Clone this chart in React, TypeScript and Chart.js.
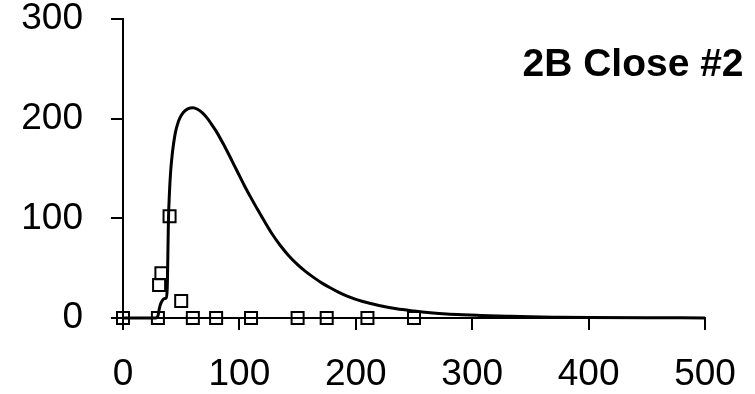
import React, { useEffect, useRef } from "react";
import { Chart, registerables } from "chart.js";

Chart.register(...registerables);

// Model curve
const curveX = [0, 10, 20, 28, 30, 31, 32, 34, 36, 37, 38, 38.5, 39, 40, 41, 42, 43, 45, 47, 49, 52, 56, 60, 64, 68, 72, 76, 80, 86, 92, 98, 104, 110, 116, 122, 128, 135, 142, 150, 157, 164, 171, 178, 185, 192, 206, 221, 235, 250, 264, 278, 292, 307, 330, 350, 375, 400, 450, 500];
const curveY = [0, 0, 0, 0, 2, 8, 13, 18, 19.5, 20, 30, 60, 96, 128, 148, 161, 171, 186, 195, 201, 206.5, 210, 211, 209.5, 206, 201, 194.5, 187.5, 175, 161.5, 147.5, 133.5, 120.5, 108, 96, 84.5, 73, 63, 53.5, 46.5, 40.5, 35, 30.3, 26, 22.3, 16.5, 12.3, 9.2, 7, 5.3, 4, 3.2, 2.6, 1.8, 1.2, 0.8, 0.5, 0.2, 0.1];

// Observed points
const obsX = [0, 30, 31, 33, 40, 50, 60, 80, 110, 150, 175, 210, 250];
const obsY = [0, 0, 33, 45, 102, 17, 0, 0, 0, 0, 0, 0, 0];

const xTicks = [0, 100, 200, 300, 400, 500];
const yTicks = [0, 100, 200, 300];
const chartTitle = "2B Close #2";

const FAMILY = "'Liberation Sans', Arial, sans-serif";

export default function App() {
  const ref = useRef<HTMLCanvasElement>(null);

  useEffect(() => {
    if (!ref.current) return;
    const font = { family: FAMILY, size: 37 };
    const titlePlugin = {
      id: "cornerTitle",
      afterDraw(chart: any) {
        const ctx = chart.ctx;
        ctx.save();
        ctx.font = `bold 39px ${FAMILY}`;
        ctx.fillStyle = "#000";
        ctx.textAlign = "center";
        ctx.textBaseline = "alphabetic";
        ctx.fillText(chartTitle, 633, 76);
        ctx.restore();
      },
    };
    const chart = new Chart(ref.current, {
      type: "scatter",
      data: {
        datasets: [
          {
            data: obsX.map((x, i) => ({ x, y: obsY[i] })),
            pointStyle: "rect",
            pointRadius: 8.5,
            borderColor: "#000",
            backgroundColor: "rgba(0,0,0,0)",
            borderWidth: 2,
            showLine: false,
            clip: false,
            order: 0,
          } as any,
          {
            data: curveX.map((x, i) => ({ x, y: curveY[i] })),
            showLine: true,
            pointRadius: 0,
            borderColor: "#000",
            backgroundColor: "#000",
            borderWidth: 3,
            cubicInterpolationMode: "monotone",
            clip: false,
            order: 1,
          } as any,
        ],
      },
      options: {
        animation: false,
        responsive: false,
        layout: { padding: { top: 19, right: 50, left: 0, bottom: 0 } },
        plugins: {
          legend: { display: false },
          tooltip: { enabled: false },
          title: { display: false },
        },
        scales: {
          x: {
            type: "linear",
            min: 0,
            max: 500,
            afterBuildTicks: (s: any) => {
              s.ticks = xTicks.map((v) => ({ value: v }));
            },
            ticks: { font, color: "#000", padding: 23, maxRotation: 0, autoSkip: false },
            grid: { drawOnChartArea: false, drawTicks: true, tickLength: 12, color: "#000", lineWidth: 2 },
            border: { display: true, color: "#000", width: 2 },
            afterFit: (s: any) => {
              s.height = 76;
              s.paddingLeft = 0;
              s.paddingRight = 0;
            },
          },
          y: {
            type: "linear",
            min: 0,
            max: 300,
            afterBuildTicks: (s: any) => {
              s.ticks = yTicks.map((v) => ({ value: v }));
            },
            ticks: { font, color: "#000", padding: 28, autoSkip: false },
            grid: { drawOnChartArea: false, drawTicks: true, tickLength: 12, color: "#000", lineWidth: 2 },
            border: { display: true, color: "#000", width: 2 },
            afterFit: (s: any) => {
              s.width = 123;
              s.paddingTop = 0;
              s.paddingBottom = 0;
            },
          },
        },
      } as any,
      plugins: [titlePlugin],
    });
    return () => chart.destroy();
  }, []);

  return (
    <div style={{ position: "absolute", left: 0, top: 0, width: 755, height: 394, background: "#fff" }}>
      <canvas ref={ref} width={755} height={394} style={{ display: "block", width: 755, height: 394 }} />
    </div>
  );
}
